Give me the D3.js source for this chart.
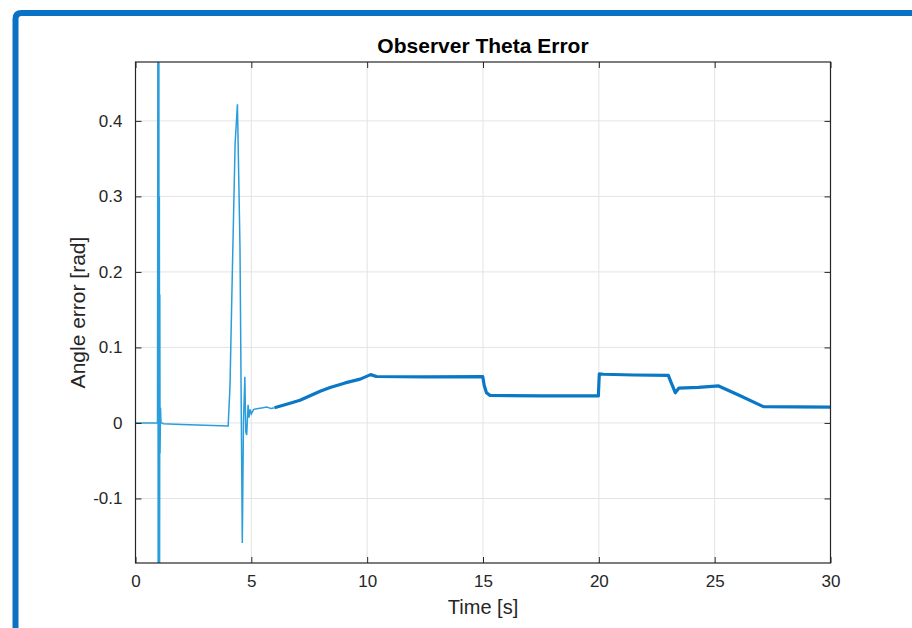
<!DOCTYPE html>
<html>
<head>
<meta charset="utf-8">
<script src="https://cdn.jsdelivr.net/npm/d3@7"></script>
<style>
  html, body { margin: 0; padding: 0; background: #fff; }
  svg { display: block; font-family: "Liberation Sans", Arial, Helvetica, sans-serif; }
</style>
</head>
<body>
<svg id="chart" width="912" height="628"></svg>
<script>
// Chart text
const chartTitle = "Observer Theta Error";
const xLabel = "Time [s]";
const yLabel = "Angle error [rad]";

// Axis ticks
const xTicks = [0, 5, 10, 15, 20, 25, 30];
const yTicks = [-0.1, 0, 0.1, 0.2, 0.3, 0.4];

// Start-up transient (time in s, angle error in rad)
const transientTime = [0, 0.5, 0.95, 0.97, 0.98, 0.99, 1.0, 1.01, 1.02, 1.03, 1.04, 1.05, 1.06, 1.08, 1.1, 1.15, 1.2, 2.0, 3.0, 4.0,
  4.08, 4.18, 4.3, 4.4, 4.51, 4.61, 4.66, 4.72, 4.76, 4.8, 4.86, 4.9, 4.95, 5.0, 5.1, 5.3, 5.5, 5.67, 5.85, 6.0];
const transientValue = [0.0, 0.0, 0.0, 0.7, -0.5, 0.6, -0.45, 0.5, -0.3, 0.3, -0.2, 0.17, -0.04, 0.02, 0.0, 0.0, -0.001, -0.002, -0.003, -0.004,
  0.05, 0.2, 0.37, 0.422, 0.233, -0.159, 0.0, 0.061, -0.012, -0.016, 0.024, 0.007, 0.018, 0.012, 0.018, 0.019, 0.02, 0.021, 0.019, 0.020];

// Tracking phase with sensor chatter (time in s, angle error in rad)
const steadyTime = [6.0, 6.67, 7.1, 7.97, 8.4, 9.05, 9.7, 10.0, 10.15, 10.4, 12.5, 14.99, 15.05, 15.15, 15.3, 17.5, 19.98, 20.02, 20.2, 21.5, 23.0, 23.1, 23.3, 23.45, 24.3, 25.17, 26.1, 27.1, 28.5, 30.0];
const steadyValue = [0.020, 0.026, 0.030, 0.042, 0.047, 0.053, 0.058, 0.062, 0.064, 0.0615, 0.061, 0.0613, 0.050, 0.040, 0.0365, 0.0358, 0.0358, 0.065, 0.0645, 0.0635, 0.063, 0.055, 0.040, 0.046, 0.047, 0.049, 0.036, 0.0216, 0.0212, 0.021];

const W = 912, H = 628;
const plot = { left: 135.5, right: 830.5, top: 62, bottom: 563 };

const x = d3.scaleLinear().domain([0, 30]).range([plot.left, plot.right]);
const y = d3.scaleLinear().domain([-0.1855, 0.478]).range([plot.bottom, plot.top]);

const svg = d3.select("#chart");

// Figure frame
svg.append("path")
  .attr("d", `M15.5,${H + 10} L15.5,19 Q15.5,13 21.5,13 L${W + 10},13`)
  .attr("fill", "none")
  .attr("stroke", "#0a72c4")
  .attr("stroke-width", 6);

// Grid
const grid = svg.append("g").attr("class", "grid");
grid.selectAll("line.gx").data(xTicks).join("line")
  .attr("x1", d => x(d)).attr("x2", d => x(d))
  .attr("y1", plot.top).attr("y2", plot.bottom)
  .attr("stroke", "#e3e3e3").attr("stroke-width", 1);
grid.selectAll("line.gy").data(yTicks).join("line")
  .attr("x1", plot.left).attr("x2", plot.right)
  .attr("y1", d => y(d)).attr("y2", d => y(d))
  .attr("stroke", "#e3e3e3").attr("stroke-width", 1);

// Clip to plotting box
svg.append("defs").append("clipPath").attr("id", "clip")
  .append("rect")
  .attr("x", plot.left).attr("y", plot.top)
  .attr("width", plot.right - plot.left).attr("height", plot.bottom - plot.top);

const line = d3.line().x(d => x(d[0])).y(d => y(d[1]));
const lines = svg.append("g").attr("clip-path", "url(#clip)");

lines.append("path")
  .datum(transientTime.map((t, i) => [t, transientValue[i]]))
  .attr("d", line)
  .attr("fill", "none")
  .attr("stroke", "#2a9ddc")
  .attr("stroke-width", 1.5)
  .attr("stroke-linejoin", "miter");

lines.append("path")
  .datum(steadyTime.map((t, i) => [t, steadyValue[i]]))
  .attr("d", line)
  .attr("fill", "none")
  .attr("stroke", "#0b78c6")
  .attr("stroke-width", 3.2)
  .attr("stroke-linejoin", "round");

// Axes (box with inward ticks on all sides)
const axisColor = "#262626";
const tickLen = 6;
const fmtY = d => d === 0 ? "0" : d3.format(".1f")(d).replace("−", "-");

const axB = svg.append("g").attr("transform", `translate(0,${plot.bottom})`)
  .call(d3.axisBottom(x).tickValues(xTicks).tickSize(-tickLen).tickPadding(12).tickFormat(d3.format("d")));
const axT = svg.append("g").attr("transform", `translate(0,${plot.top})`)
  .call(d3.axisTop(x).tickValues(xTicks).tickSize(-tickLen).tickFormat(""));
const axL = svg.append("g").attr("transform", `translate(${plot.left},0)`)
  .call(d3.axisLeft(y).tickValues(yTicks).tickSize(-tickLen).tickPadding(13).tickFormat(fmtY));
const axR = svg.append("g").attr("transform", `translate(${plot.right},0)`)
  .call(d3.axisRight(y).tickValues(yTicks).tickSize(-tickLen).tickFormat(""));

[axB, axT, axL, axR].forEach(g => {
  g.select(".domain").remove();
  g.selectAll(".tick line").attr("stroke", axisColor).attr("stroke-width", 1);
  g.selectAll(".tick text").attr("fill", axisColor).style("font-size", "17px");
});
axB.selectAll(".tick text").attr("dy", "0.71em");

svg.append("rect")
  .attr("x", plot.left).attr("y", plot.top)
  .attr("width", plot.right - plot.left).attr("height", plot.bottom - plot.top)
  .attr("fill", "none").attr("stroke", axisColor).attr("stroke-width", 1.2);

// Titles
svg.append("text")
  .attr("x", (plot.left + plot.right) / 2).attr("y", 53)
  .attr("text-anchor", "middle")
  .style("font-size", "21px").style("font-weight", "bold")
  .attr("fill", "#000")
  .text(chartTitle);

svg.append("text")
  .attr("x", (plot.left + plot.right) / 2).attr("y", 614)
  .attr("text-anchor", "middle")
  .style("font-size", "20px")
  .attr("fill", axisColor)
  .text(xLabel);

svg.append("text")
  .attr("transform", `translate(85,${(plot.top + plot.bottom) / 2}) rotate(-90)`)
  .attr("text-anchor", "middle")
  .style("font-size", "21px")
  .attr("fill", axisColor)
  .text(yLabel);
</script>
</body>
</html>
